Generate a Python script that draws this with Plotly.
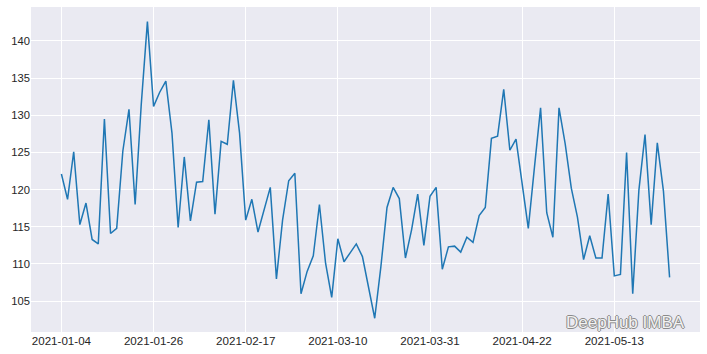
import pandas as pd
import plotly.graph_objects as go

holidays = ["2021-01-18", "2021-02-15", "2021-04-02"]
dates = pd.bdate_range("2021-01-04", periods=100, freq="C", holidays=holidays).strftime("%Y-%m-%d").tolist()

values = [
    122.1, 118.7, 125.1, 115.3, 118.2, 113.3, 112.7, 129.5, 114.1, 114.8,
    125.2, 130.8, 118.0, 131.5, 142.6, 131.2, 133.1, 134.6, 127.6, 114.9,
    124.4, 115.8, 121.0, 121.1, 129.4, 116.7, 126.5, 126.1, 134.7, 127.6,
    115.9, 118.7, 114.3, 117.2, 120.3, 108.0, 115.9, 121.2, 122.2, 106.0,
    109.0, 111.1, 118.0, 110.1, 105.5, 113.4, 110.3, 111.5, 112.7, 111.0,
    106.9, 102.7, 109.6, 117.6, 120.3, 118.8, 110.8, 114.6, 119.4, 112.5,
    119.1, 120.3, 109.3, 112.3, 112.4, 111.6, 113.6, 112.9, 116.5, 117.6,
    126.9, 127.2, 133.5, 125.3, 126.8, 120.8, 114.8, 123.0, 131.0, 116.9,
    113.6, 131.0, 126.2, 120.2, 116.3, 110.6, 113.8, 110.8, 110.8, 119.4,
    108.4, 108.6, 125.0, 106.0, 119.9, 127.4, 115.3, 126.3, 119.8, 108.2,
]

tick_dates = dates[::15]
y_ticks = [105, 110, 115, 120, 125, 130, 135, 140]

fig = go.Figure()
fig.add_trace(go.Scatter(
    x=dates, y=values, mode="lines",
    line=dict(color="#1f77b4", width=1.5),
    showlegend=False,
))

fig.update_layout(
    width=707, height=354,
    margin=dict(l=31, r=7, t=7, b=22),
    paper_bgcolor="white",
    plot_bgcolor="#EAEAF2",
    font=dict(family="Liberation Sans, Arial, sans-serif", size=11.6, color="#262626"),
    xaxis=dict(
        type="category",
        range=[-4.95, 103.95],
        tickmode="array",
        tickvals=tick_dates,
        ticktext=tick_dates,
        showgrid=True, gridcolor="white", gridwidth=1,
        zeroline=False, showline=False, ticks="",
        tickfont=dict(size=11.6),
    ),
    yaxis=dict(
        range=[100.85, 144.57],
        tickmode="array",
        tickvals=y_ticks,
        showgrid=True, gridcolor="white", gridwidth=1,
        zeroline=False, showline=False, ticks="",
        tickfont=dict(size=11.2),
    ),
)

fig.add_annotation(
    xref="paper", yref="paper", x=0.981, y=0.028,
    xanchor="right", yanchor="middle",
    text="DeepHub IMBA", showarrow=False,
    font=dict(size=17, color="#f2f2f2", family="Liberation Sans, Arial, sans-serif",
              shadow="1px 0 0 #8a8a8a, -1px 0 0 #8a8a8a, 0 1px 0 #8a8a8a, 0 -1px 0 #8a8a8a"),
)

fig.write_html("out.html")
